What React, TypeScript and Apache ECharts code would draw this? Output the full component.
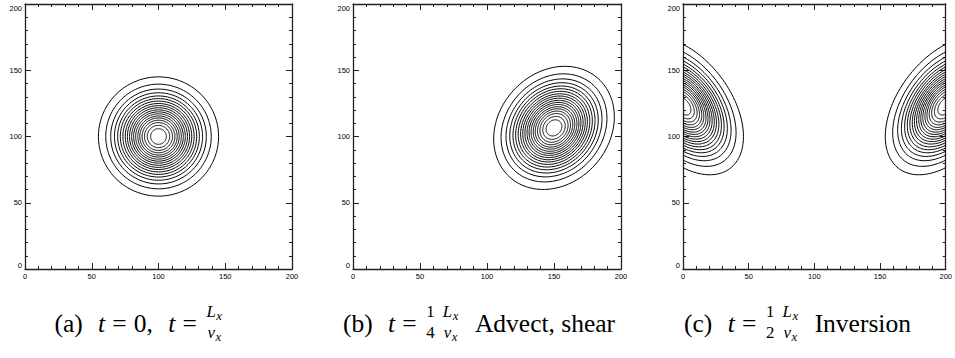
import React, { useEffect, useRef } from "react";
import * as echarts from "echarts";

// ---------- data ----------
const AXIS_MIN = 0;
const AXIS_MAX = 200;
const TICK_INTERVAL = 50;
// contour radii (data units) of the Gaussian blob, outermost first
const contourRadii = [45.0, 39.5, 35.8, 33.0, 30.6, 28.6, 26.7, 24.9, 23.3, 21.7, 20.1, 18.6, 17.1, 15.5, 14.0, 12.3, 10.5, 8.4, 5.9];
// blob centres per panel [x, y]
const centresA = [[100, 100]];
const centresB = [[150, 106.5]];
const centresCLeft = [[0, 123]];
const centresCRight = [[200, 123]];
// contour shape per panel: [major factor, minor factor, rotation deg]
const shapeA = [1, 1, 0];
const shapeB = [1.105, 0.92, 50];
const shapeCLeft = [1.315, 0.804, -52.6];
const shapeCRight = [1.315, 0.804, 52.6];

// caption pieces
const captionA = [
  { k: "rm", s: "(a)" }, { k: "sp", em: 0.6 }, { k: "it", s: "t" }, { k: "sp", em: 0.28 }, { k: "rm", s: "=" }, { k: "sp", em: 0.28 },
  { k: "rm", s: "0," }, { k: "sp", em: 0.6 }, { k: "it", s: "t" }, { k: "sp", em: 0.28 }, { k: "rm", s: "=" }, { k: "sp", em: 0.28 },
  { k: "frac", num: [["L", 1, 0], ["x", 1, 1]], den: [["v", 1, 0], ["x", 1, 1]] },
];
const captionB = [
  { k: "rm", s: "(b)" }, { k: "sp", em: 0.6 }, { k: "it", s: "t" }, { k: "sp", em: 0.28 }, { k: "rm", s: "=" }, { k: "sp", em: 0.28 },
  { k: "frac", num: [["1", 0, 0]], den: [["4", 0, 0]] }, { k: "sp", em: 0.12 },
  { k: "frac", num: [["L", 1, 0], ["x", 1, 1]], den: [["v", 1, 0], ["x", 1, 1]] }, { k: "sp", em: 0.55 },
  { k: "rm", s: "Advect, shear" },
];
const captionC = [
  { k: "rm", s: "(c)" }, { k: "sp", em: 0.6 }, { k: "it", s: "t" }, { k: "sp", em: 0.28 }, { k: "rm", s: "=" }, { k: "sp", em: 0.28 },
  { k: "frac", num: [["1", 0, 0]], den: [["2", 0, 0]] }, { k: "sp", em: 0.12 },
  { k: "frac", num: [["L", 1, 0], ["x", 1, 1]], den: [["v", 1, 0], ["x", 1, 1]] }, { k: "sp", em: 0.55 },
  { k: "rm", s: "Inversion" },
];
const captionCentres = [139.5, 479, 797.5];
const CAPTION_BASELINE = 332;
const CAPTION_SIZE = 25.5;

// panel rectangles (px)
const grids = [
  { left: 25, top: 4, width: 267, height: 265 },
  { left: 353, top: 4, width: 268, height: 265 },
  { left: 683, top: 4, width: 266, height: 265 },
];

function buildRows(centres: number[][], shape: number[]) {
  const rows: number[][] = [];
  centres.forEach(([cx, cy]) => {
    contourRadii.forEach((r) => rows.push([cx, cy, r, shape[0], shape[1], shape[2]]));
  });
  return rows;
}

const FONT_FAMILY = '"Liberation Serif", "Times New Roman", serif';
let measureCtx: CanvasRenderingContext2D | null = null;
function textWidth(s: string, size: number, italic: boolean) {
  if (!measureCtx) measureCtx = document.createElement("canvas").getContext("2d");
  const f = `${italic ? "italic " : ""}${size}px ${FONT_FAMILY}`;
  measureCtx!.font = f;
  return measureCtx!.measureText(s).width;
}

function layoutCaption(pieces: any[], centreX: number, baseline: number, size: number) {
  const fs = size * 0.66; // script size
  const fss = size * 0.5; // scriptscript size
  const atomsWidth = (atoms: any[]) =>
    atoms.reduce((w, a) => w + textWidth(a[0], a[2] ? fss : fs, !!a[1]) + (a[2] ? 0 : a[1] ? size * 0.02 : 0), 0);
  const widths = pieces.map((p) => {
    if (p.k === "sp") return p.em * size;
    if (p.k === "rm") return textWidth(p.s, size, false);
    if (p.k === "it") return textWidth(p.s, size, true);
    const w = Math.max(atomsWidth(p.num), atomsWidth(p.den));
    return w + size * 0.2;
  });
  const total = widths.reduce((a, b) => a + b, 0);
  let x = centreX - total / 2;
  const els: any[] = [];
  const mkText = (s: string, tx: number, base: number, sz: number, italic: boolean) => ({
    type: "text",
    x: tx,
    y: base - 0.34 * sz,
    silent: true,
    style: {
      text: s,
      font: `${italic ? "italic " : ""}${sz}px ${FONT_FAMILY}`,
      fill: "#000",
      textAlign: "left",
      textVerticalAlign: "middle",
    },
  });
  const drawAtoms = (atoms: any[], startX: number, base: number) => {
    let ax = startX;
    atoms.forEach((a) => {
      const sz = a[2] ? fss : fs;
      const b = a[2] ? base + size * 0.12 : base;
      els.push(mkText(a[0], ax, b, sz, !!a[1]));
      ax += textWidth(a[0], sz, !!a[1]) + (a[2] ? 0 : a[1] ? size * 0.02 : 0);
    });
  };
  pieces.forEach((p, i) => {
    const w = widths[i];
    if (p.k === "rm" || p.k === "it") {
      els.push(mkText(p.s, x, baseline, size, p.k === "it"));
    } else if (p.k === "frac") {
      const nw = atomsWidth(p.num);
      const dw = atomsWidth(p.den);
      drawAtoms(p.num, x + (w - nw) / 2, baseline - size * 0.56);
      drawAtoms(p.den, x + (w - dw) / 2, baseline + size * 0.26);
    }
    x += w;
  });
  return els;
}

export default function App() {
  const ref = useRef<HTMLDivElement>(null);
  useEffect(() => {
    document.body.style.margin = "0";
    const chart = echarts.init(ref.current!, null, { renderer: "svg" });
    const axisColor = "#222";
    const common = (show: boolean) => ({
      type: "value",
      min: AXIS_MIN,
      max: AXIS_MAX,
      interval: TICK_INTERVAL,
      splitLine: { show: false },
      axisLine: { show: true, onZero: false, lineStyle: { color: axisColor, width: 1.3 } },
      axisTick: { show: true, inside: true, length: 6, lineStyle: { color: axisColor, width: 1 } },
      minorTick: { show: true, splitNumber: 5, length: 3, lineStyle: { color: axisColor, width: 1 } },
      axisLabel: {
        show,
        fontSize: 7.5,
        fontFamily: '"Liberation Sans", Arial, sans-serif',
        color: "#000",
        margin: 3,
      },
    });
    const xAxis: any[] = [];
    const yAxis: any[] = [];
    grids.forEach((_, i) => {
      xAxis.push({ ...common(true), gridIndex: i, position: "bottom" });
      xAxis.push({ ...common(false), gridIndex: i, position: "top" });
      const yl: any = { ...common(true), gridIndex: i, position: "left" };
      yl.axisLabel = { ...yl.axisLabel, verticalAlignMaxLabel: "top", verticalAlignMinLabel: "bottom" };
      yAxis.push(yl);
      yAxis.push({ ...common(false), gridIndex: i, position: "right" });
    });

    const renderItem = (params: any, api: any) => {
      const cx = api.value(0);
      const cy = api.value(1);
      const r = api.value(2);
      const a = api.value(3);
      const b = api.value(4);
      const rot = (api.value(5) * Math.PI) / 180;
      const pts: number[][] = [];
      const N = 140;
      for (let k = 0; k < N; k++) {
        const th = (2 * Math.PI * k) / N;
        const ex = a * r * Math.cos(th);
        const ey = b * r * Math.sin(th);
        const dx = ex * Math.cos(rot) - ey * Math.sin(rot);
        const dy = ex * Math.sin(rot) + ey * Math.cos(rot);
        pts.push(api.coord([cx + dx, cy + dy]));
      }
      return {
        type: "polygon",
        shape: { points: pts },
        style: { fill: "none", stroke: "#000", lineWidth: 1 },
      };
    };
    const mkSeries = (rows: number[][], gi: number) => ({
      type: "custom",
      xAxisIndex: gi * 2,
      yAxisIndex: gi * 2,
      clip: true,
      silent: true,
      renderItem,
      encode: { x: 0, y: 1 },
      data: rows,
    });

    const graphics = [
      ...layoutCaption(captionA, captionCentres[0], CAPTION_BASELINE, CAPTION_SIZE),
      ...layoutCaption(captionB, captionCentres[1], CAPTION_BASELINE, CAPTION_SIZE),
      ...layoutCaption(captionC, captionCentres[2], CAPTION_BASELINE, CAPTION_SIZE),
    ];

    chart.setOption({
      animation: false,
      backgroundColor: "#fff",
      grid: grids.map((g) => ({ ...g, containLabel: false })),
      xAxis,
      yAxis,
      series: [
        mkSeries(buildRows(centresA, shapeA), 0),
        mkSeries(buildRows(centresB, shapeB), 1),
        mkSeries(buildRows(centresCLeft, shapeCLeft), 2),
        mkSeries(buildRows(centresCRight, shapeCRight), 2),
      ],
      graphic: { elements: graphics },
    });
    return () => chart.dispose();
  }, []);
  return <div ref={ref} style={{ position: "absolute", left: 0, top: 0, width: 955, height: 358 }} />;
}
